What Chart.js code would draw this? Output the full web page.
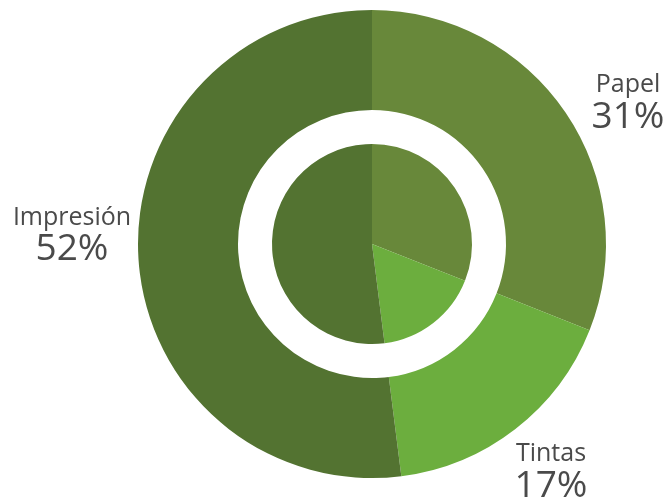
<!DOCTYPE html>
<html>
<head>
<meta charset="utf-8">
<script src="https://cdn.jsdelivr.net/npm/chart.js@4/dist/chart.umd.min.js"></script>
<style>
  html, body { margin: 0; padding: 0; background: #ffffff; }
  #wrap { width: 669px; height: 499px; position: relative; }
</style>
</head>
<body>
<div id="wrap"><canvas id="chart"></canvas></div>
<script>
// Cost breakdown
const categories = ['Papel', 'Tintas', 'Impresión'];
const shares = [31, 17, 52];
const percentLabels = ['31%', '17%', '52%'];
const sliceColors = ['#68883a', '#6cae3e', '#537331'];

// Label placement around the pie, in units of the outer radius
const labelPlacement = {
  'Papel':     { dx: 1.094, name: -0.650, pct: -0.496 },
  'Tintas':    { dx: 0.765, name: 0.927,  pct: 1.081 },
  'Impresión': { dx: -1.282, name: -0.081, pct: 0.068 }
};

const sideLabels = {
  id: 'sideLabels',
  afterDraw(chart) {
    const meta = chart.getDatasetMeta(0);
    const arc = meta.data[0];
    const cx = arc.x, cy = arc.y, R = arc.outerRadius;
    const ctx = chart.ctx;
    ctx.save();
    ctx.fillStyle = '#4a4a4a';
    ctx.textAlign = 'center';
    ctx.textBaseline = 'alphabetic';
    categories.forEach((name, i) => {
      const p = labelPlacement[name];
      const x = cx + p.dx * R;
      ctx.font = '25px "Open Sans", sans-serif';
      ctx.fillText(name, x, cy + p.name * R);
      ctx.font = '37px "Open Sans", sans-serif';
      ctx.fillText(percentLabels[i], x, cy + p.pct * R);
    });
    ctx.restore();
  }
};

const arcStyle = { borderWidth: 0, hoverOffset: 0, offset: 0 };

new Chart(document.getElementById('chart'), {
  type: 'doughnut',
  data: {
    labels: categories,
    datasets: [
      Object.assign({ data: shares, backgroundColor: sliceColors, weight: 100 }, arcStyle),
      Object.assign({ data: shares, backgroundColor: 'rgba(255,255,255,0)', weight: 34 }, arcStyle),
      Object.assign({ data: shares, backgroundColor: sliceColors, weight: 100 }, arcStyle)
    ]
  },
  options: {
    responsive: true,
    maintainAspectRatio: false,
    animation: false,
    cutout: 0,
    layout: { padding: { left: 138, right: 63, top: 10, bottom: 21 } },
    plugins: {
      legend: { display: false },
      tooltip: { enabled: false }
    }
  },
  plugins: [sideLabels]
});
</script>
</body>
</html>
